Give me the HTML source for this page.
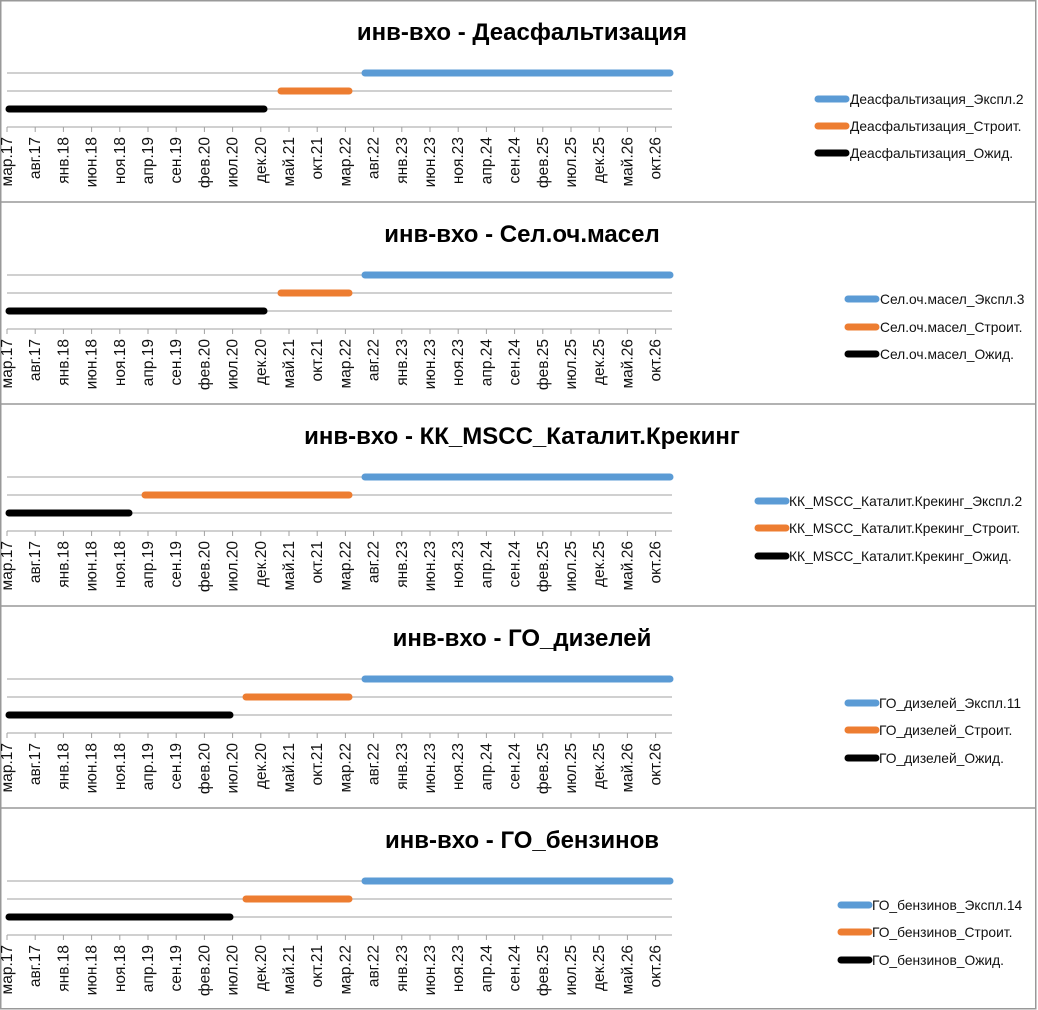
<!DOCTYPE html>
<html><head><meta charset="utf-8"><style>
body{margin:0;background:#fff}
svg{display:block;font-family:"Liberation Sans","DejaVu Sans",sans-serif}
.t{font-size:24px;font-weight:bold;text-anchor:middle}
.x{font-size:15.5px;text-anchor:end;fill:#111}
.l{font-size:13.8px;fill:#111}
.g{stroke:#a0a0a0;stroke-width:1}
.b{stroke-width:7;stroke-linecap:round}
</style></head><body>
<svg width="1038" height="1010" viewBox="0 0 1038 1010">
<rect x="0.75" y="0.75" width="1035" height="1008" fill="none" stroke="#999" stroke-width="1.5"/>
<line x1="0" y1="202" x2="1036" y2="202" stroke="#999" stroke-width="1.5"/>
<line x1="0" y1="404" x2="1036" y2="404" stroke="#999" stroke-width="1.5"/>
<line x1="0" y1="606" x2="1036" y2="606" stroke="#999" stroke-width="1.5"/>
<line x1="0" y1="808" x2="1036" y2="808" stroke="#999" stroke-width="1.5"/>
<defs>
<g id="ax">
<line class="g" x1="7" y1="73" x2="672" y2="73"/>
<line class="g" x1="7" y1="91" x2="672" y2="91"/>
<line class="g" x1="7" y1="109" x2="672" y2="109"/>
<line class="g" x1="7" y1="127" x2="672" y2="127"/>
<path class="g" fill="none" d="M7 127v5M35.2 127v5M63.4 127v5M91.6 127v5M119.8 127v5M148 127v5M176.2 127v5M204.4 127v5M232.6 127v5M260.8 127v5M289 127v5M317.2 127v5M345.4 127v5M373.6 127v5M401.8 127v5M430 127v5M458.2 127v5M486.4 127v5M514.6 127v5M542.8 127v5M571 127v5M599.2 127v5M627.4 127v5M655.6 127v5"/>
</g>
</defs>
<g transform="translate(0,0)">
<use href="#ax"/>
<text class="t" x="522" y="40">инв-вхо - Деасфальтизация</text>
<line class="b" stroke="#5b9bd5" x1="365" y1="73" x2="670" y2="73"/>
<line class="b" stroke="#ed7d31" x1="281" y1="91" x2="349" y2="91"/>
<line class="b" stroke="#000" x1="9" y1="109" x2="264" y2="109"/>
<line class="b" stroke="#5b9bd5" x1="818" y1="99" x2="846" y2="99"/>
<line class="b" stroke="#ed7d31" x1="818" y1="126" x2="846" y2="126"/>
<line class="b" stroke="#000" x1="818" y1="153" x2="846" y2="153"/>
<text class="l" x="850" y="104">Деасфальтизация_Экспл.2</text>
<text class="l" x="850" y="131">Деасфальтизация_Строит.</text>
<text class="l" x="850" y="158">Деасфальтизация_Ожид.</text>
<g class="x">
<text transform="translate(12,137) rotate(-90)">мар.17</text><text transform="translate(40.2,137) rotate(-90)">авг.17</text><text transform="translate(68.4,137) rotate(-90)">янв.18</text><text transform="translate(96.6,137) rotate(-90)">июн.18</text><text transform="translate(124.8,137) rotate(-90)">ноя.18</text><text transform="translate(153,137) rotate(-90)">апр.19</text><text transform="translate(181.2,137) rotate(-90)">сен.19</text><text transform="translate(209.4,137) rotate(-90)">фев.20</text><text transform="translate(237.6,137) rotate(-90)">июл.20</text><text transform="translate(265.8,137) rotate(-90)">дек.20</text><text transform="translate(294,137) rotate(-90)">май.21</text><text transform="translate(322.2,137) rotate(-90)">окт.21</text><text transform="translate(350.4,137) rotate(-90)">мар.22</text><text transform="translate(378.6,137) rotate(-90)">авг.22</text><text transform="translate(406.8,137) rotate(-90)">янв.23</text><text transform="translate(435,137) rotate(-90)">июн.23</text><text transform="translate(463.2,137) rotate(-90)">ноя.23</text><text transform="translate(491.4,137) rotate(-90)">апр.24</text><text transform="translate(519.6,137) rotate(-90)">сен.24</text><text transform="translate(547.8,137) rotate(-90)">фев.25</text><text transform="translate(576,137) rotate(-90)">июл.25</text><text transform="translate(604.2,137) rotate(-90)">дек.25</text><text transform="translate(632.4,137) rotate(-90)">май.26</text><text transform="translate(660.6,137) rotate(-90)">окт.26</text>
</g>
</g>
<g transform="translate(0,202)">
<use href="#ax"/>
<text class="t" x="522" y="40">инв-вхо - Сел.оч.масел</text>
<line class="b" stroke="#5b9bd5" x1="365" y1="73" x2="670" y2="73"/>
<line class="b" stroke="#ed7d31" x1="281" y1="91" x2="349" y2="91"/>
<line class="b" stroke="#000" x1="9" y1="109" x2="264" y2="109"/>
<line class="b" stroke="#5b9bd5" x1="848" y1="97" x2="876" y2="97"/>
<line class="b" stroke="#ed7d31" x1="848" y1="125" x2="876" y2="125"/>
<line class="b" stroke="#000" x1="848" y1="152" x2="876" y2="152"/>
<text class="l" x="880" y="102">Сел.оч.масел_Экспл.3</text>
<text class="l" x="880" y="130">Сел.оч.масел_Строит.</text>
<text class="l" x="880" y="157">Сел.оч.масел_Ожид.</text>
<g class="x">
<text transform="translate(12,137) rotate(-90)">мар.17</text><text transform="translate(40.2,137) rotate(-90)">авг.17</text><text transform="translate(68.4,137) rotate(-90)">янв.18</text><text transform="translate(96.6,137) rotate(-90)">июн.18</text><text transform="translate(124.8,137) rotate(-90)">ноя.18</text><text transform="translate(153,137) rotate(-90)">апр.19</text><text transform="translate(181.2,137) rotate(-90)">сен.19</text><text transform="translate(209.4,137) rotate(-90)">фев.20</text><text transform="translate(237.6,137) rotate(-90)">июл.20</text><text transform="translate(265.8,137) rotate(-90)">дек.20</text><text transform="translate(294,137) rotate(-90)">май.21</text><text transform="translate(322.2,137) rotate(-90)">окт.21</text><text transform="translate(350.4,137) rotate(-90)">мар.22</text><text transform="translate(378.6,137) rotate(-90)">авг.22</text><text transform="translate(406.8,137) rotate(-90)">янв.23</text><text transform="translate(435,137) rotate(-90)">июн.23</text><text transform="translate(463.2,137) rotate(-90)">ноя.23</text><text transform="translate(491.4,137) rotate(-90)">апр.24</text><text transform="translate(519.6,137) rotate(-90)">сен.24</text><text transform="translate(547.8,137) rotate(-90)">фев.25</text><text transform="translate(576,137) rotate(-90)">июл.25</text><text transform="translate(604.2,137) rotate(-90)">дек.25</text><text transform="translate(632.4,137) rotate(-90)">май.26</text><text transform="translate(660.6,137) rotate(-90)">окт.26</text>
</g>
</g>
<g transform="translate(0,404)">
<use href="#ax"/>
<text class="t" x="522" y="40">инв-вхо - КК_MSCC_Каталит.Крекинг</text>
<line class="b" stroke="#5b9bd5" x1="365" y1="73" x2="670" y2="73"/>
<line class="b" stroke="#ed7d31" x1="145" y1="91" x2="349" y2="91"/>
<line class="b" stroke="#000" x1="9" y1="109" x2="129" y2="109"/>
<line class="b" stroke="#5b9bd5" x1="758" y1="97" x2="786" y2="97"/>
<line class="b" stroke="#ed7d31" x1="758" y1="124" x2="786" y2="124"/>
<line class="b" stroke="#000" x1="758" y1="152" x2="786" y2="152"/>
<text class="l" x="789" y="102">КК_MSCC_Каталит.Крекинг_Экспл.2</text>
<text class="l" x="789" y="129">КК_MSCC_Каталит.Крекинг_Строит.</text>
<text class="l" x="789" y="157">КК_MSCC_Каталит.Крекинг_Ожид.</text>
<g class="x">
<text transform="translate(12,137) rotate(-90)">мар.17</text><text transform="translate(40.2,137) rotate(-90)">авг.17</text><text transform="translate(68.4,137) rotate(-90)">янв.18</text><text transform="translate(96.6,137) rotate(-90)">июн.18</text><text transform="translate(124.8,137) rotate(-90)">ноя.18</text><text transform="translate(153,137) rotate(-90)">апр.19</text><text transform="translate(181.2,137) rotate(-90)">сен.19</text><text transform="translate(209.4,137) rotate(-90)">фев.20</text><text transform="translate(237.6,137) rotate(-90)">июл.20</text><text transform="translate(265.8,137) rotate(-90)">дек.20</text><text transform="translate(294,137) rotate(-90)">май.21</text><text transform="translate(322.2,137) rotate(-90)">окт.21</text><text transform="translate(350.4,137) rotate(-90)">мар.22</text><text transform="translate(378.6,137) rotate(-90)">авг.22</text><text transform="translate(406.8,137) rotate(-90)">янв.23</text><text transform="translate(435,137) rotate(-90)">июн.23</text><text transform="translate(463.2,137) rotate(-90)">ноя.23</text><text transform="translate(491.4,137) rotate(-90)">апр.24</text><text transform="translate(519.6,137) rotate(-90)">сен.24</text><text transform="translate(547.8,137) rotate(-90)">фев.25</text><text transform="translate(576,137) rotate(-90)">июл.25</text><text transform="translate(604.2,137) rotate(-90)">дек.25</text><text transform="translate(632.4,137) rotate(-90)">май.26</text><text transform="translate(660.6,137) rotate(-90)">окт.26</text>
</g>
</g>
<g transform="translate(0,606)">
<use href="#ax"/>
<text class="t" x="522" y="40">инв-вхо - ГО_дизелей</text>
<line class="b" stroke="#5b9bd5" x1="365" y1="73" x2="670" y2="73"/>
<line class="b" stroke="#ed7d31" x1="246" y1="91" x2="349" y2="91"/>
<line class="b" stroke="#000" x1="9" y1="109" x2="230" y2="109"/>
<line class="b" stroke="#5b9bd5" x1="848" y1="97" x2="876" y2="97"/>
<line class="b" stroke="#ed7d31" x1="848" y1="124" x2="876" y2="124"/>
<line class="b" stroke="#000" x1="848" y1="152" x2="876" y2="152"/>
<text class="l" x="879" y="102">ГО_дизелей_Экспл.11</text>
<text class="l" x="879" y="129">ГО_дизелей_Строит.</text>
<text class="l" x="879" y="157">ГО_дизелей_Ожид.</text>
<g class="x">
<text transform="translate(12,137) rotate(-90)">мар.17</text><text transform="translate(40.2,137) rotate(-90)">авг.17</text><text transform="translate(68.4,137) rotate(-90)">янв.18</text><text transform="translate(96.6,137) rotate(-90)">июн.18</text><text transform="translate(124.8,137) rotate(-90)">ноя.18</text><text transform="translate(153,137) rotate(-90)">апр.19</text><text transform="translate(181.2,137) rotate(-90)">сен.19</text><text transform="translate(209.4,137) rotate(-90)">фев.20</text><text transform="translate(237.6,137) rotate(-90)">июл.20</text><text transform="translate(265.8,137) rotate(-90)">дек.20</text><text transform="translate(294,137) rotate(-90)">май.21</text><text transform="translate(322.2,137) rotate(-90)">окт.21</text><text transform="translate(350.4,137) rotate(-90)">мар.22</text><text transform="translate(378.6,137) rotate(-90)">авг.22</text><text transform="translate(406.8,137) rotate(-90)">янв.23</text><text transform="translate(435,137) rotate(-90)">июн.23</text><text transform="translate(463.2,137) rotate(-90)">ноя.23</text><text transform="translate(491.4,137) rotate(-90)">апр.24</text><text transform="translate(519.6,137) rotate(-90)">сен.24</text><text transform="translate(547.8,137) rotate(-90)">фев.25</text><text transform="translate(576,137) rotate(-90)">июл.25</text><text transform="translate(604.2,137) rotate(-90)">дек.25</text><text transform="translate(632.4,137) rotate(-90)">май.26</text><text transform="translate(660.6,137) rotate(-90)">окт.26</text>
</g>
</g>
<g transform="translate(0,808)">
<use href="#ax"/>
<text class="t" x="522" y="40">инв-вхо - ГО_бензинов</text>
<line class="b" stroke="#5b9bd5" x1="365" y1="73" x2="670" y2="73"/>
<line class="b" stroke="#ed7d31" x1="246" y1="91" x2="349" y2="91"/>
<line class="b" stroke="#000" x1="9" y1="109" x2="230" y2="109"/>
<line class="b" stroke="#5b9bd5" x1="841" y1="97" x2="869" y2="97"/>
<line class="b" stroke="#ed7d31" x1="841" y1="124" x2="869" y2="124"/>
<line class="b" stroke="#000" x1="841" y1="152" x2="869" y2="152"/>
<text class="l" x="872" y="102">ГО_бензинов_Экспл.14</text>
<text class="l" x="872" y="129">ГО_бензинов_Строит.</text>
<text class="l" x="872" y="157">ГО_бензинов_Ожид.</text>
<g class="x">
<text transform="translate(12,137) rotate(-90)">мар.17</text><text transform="translate(40.2,137) rotate(-90)">авг.17</text><text transform="translate(68.4,137) rotate(-90)">янв.18</text><text transform="translate(96.6,137) rotate(-90)">июн.18</text><text transform="translate(124.8,137) rotate(-90)">ноя.18</text><text transform="translate(153,137) rotate(-90)">апр.19</text><text transform="translate(181.2,137) rotate(-90)">сен.19</text><text transform="translate(209.4,137) rotate(-90)">фев.20</text><text transform="translate(237.6,137) rotate(-90)">июл.20</text><text transform="translate(265.8,137) rotate(-90)">дек.20</text><text transform="translate(294,137) rotate(-90)">май.21</text><text transform="translate(322.2,137) rotate(-90)">окт.21</text><text transform="translate(350.4,137) rotate(-90)">мар.22</text><text transform="translate(378.6,137) rotate(-90)">авг.22</text><text transform="translate(406.8,137) rotate(-90)">янв.23</text><text transform="translate(435,137) rotate(-90)">июн.23</text><text transform="translate(463.2,137) rotate(-90)">ноя.23</text><text transform="translate(491.4,137) rotate(-90)">апр.24</text><text transform="translate(519.6,137) rotate(-90)">сен.24</text><text transform="translate(547.8,137) rotate(-90)">фев.25</text><text transform="translate(576,137) rotate(-90)">июл.25</text><text transform="translate(604.2,137) rotate(-90)">дек.25</text><text transform="translate(632.4,137) rotate(-90)">май.26</text><text transform="translate(660.6,137) rotate(-90)">окт.26</text>
</g>
</g>
</svg>
</body></html>
